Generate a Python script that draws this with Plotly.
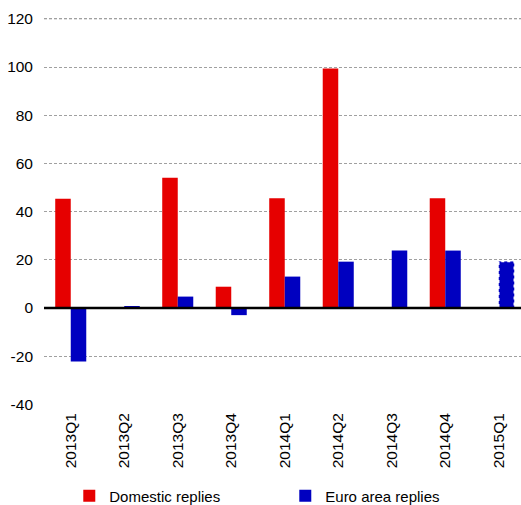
import plotly.graph_objects as go

categories = ["2013Q1", "2013Q2", "2013Q3", "2013Q4", "2014Q1", "2014Q2", "2014Q3", "2014Q4", "2015Q1"]
domestic = [45.3, 0, 54.0, 8.8, 45.5, 99.4, 0, 45.5, None]
euro_area = [-22.2, 0.7, 4.7, -3.0, 13.0, 19.2, 23.8, 23.8, 19.3]
y_ticks = [-40, -20, 0, 20, 40, 60, 80, 100, 120]

RED = "#e60000"
BLUE = "#0000c0"
BARGAP = 0.42

fig = go.Figure()
fig.add_trace(go.Bar(name="Domestic replies", x=categories, y=domestic,
                     marker=dict(color=RED, line=dict(width=0))))
fig.add_trace(go.Bar(name="Euro area replies", x=categories, y=euro_area,
                     marker=dict(color=BLUE, line=dict(width=0))))

# top grid line drawn explicitly
fig.add_shape(type="line", xref="paper", yref="y", x0=0, x1=1,
              y0=max(y_ticks), y1=max(y_ticks),
              line=dict(color="#a0a0a0", width=1, dash="3px,2px"), layer="above")

# dashed outline on the last (provisional) euro-area bar
bw = (1 - BARGAP) / 2
last = len(categories) - 1
fig.add_shape(type="rect", xref="x", yref="y",
              x0=last, x1=last + bw, y0=0, y1=euro_area[last],
              line=dict(color="white", width=1.5, dash="dot"), layer="above")

# zero line above bars
fig.add_shape(type="line", xref="paper", yref="y", x0=0, x1=1, y0=0, y1=0,
              line=dict(color="black", width=2.5), layer="above")

fig.update_layout(
    width=521, height=505,
    margin=dict(l=44, r=0, t=14, b=100, autoexpand=False),
    barmode="group", bargap=BARGAP, bargroupgap=0,
    plot_bgcolor="white", paper_bgcolor="white",
    font=dict(family="Liberation Sans, Arial, sans-serif", size=15, color="black"),
    showlegend=True,
    legend=dict(orientation="h", x=0.053, y=0.018, xref="paper", yref="container",
                xanchor="left", yanchor="middle",
                entrywidth=171, entrywidthmode="pixels",
                font=dict(size=15), bgcolor="rgba(0,0,0,0)"),
)
fig.update_xaxes(type="category", range=[-0.5, 8.416], showgrid=False, showline=False,
                 ticks="", tickangle=-90, tickfont=dict(size=15.5), automargin=False,
                 ticklabelstandoff=4)
fig.update_yaxes(range=[-40.3, 122], tickvals=y_ticks, ticktext=[str(v) for v in y_ticks],
                 showgrid=True, gridcolor="#a0a0a0", griddash="3px,2px", gridwidth=1,
                 zeroline=False, showline=False,
                 ticks="", ticklabelstandoff=10, tickfont=dict(size=15.5), automargin=False)

fig.write_html("out.html", config={"displayModeBar": False})
